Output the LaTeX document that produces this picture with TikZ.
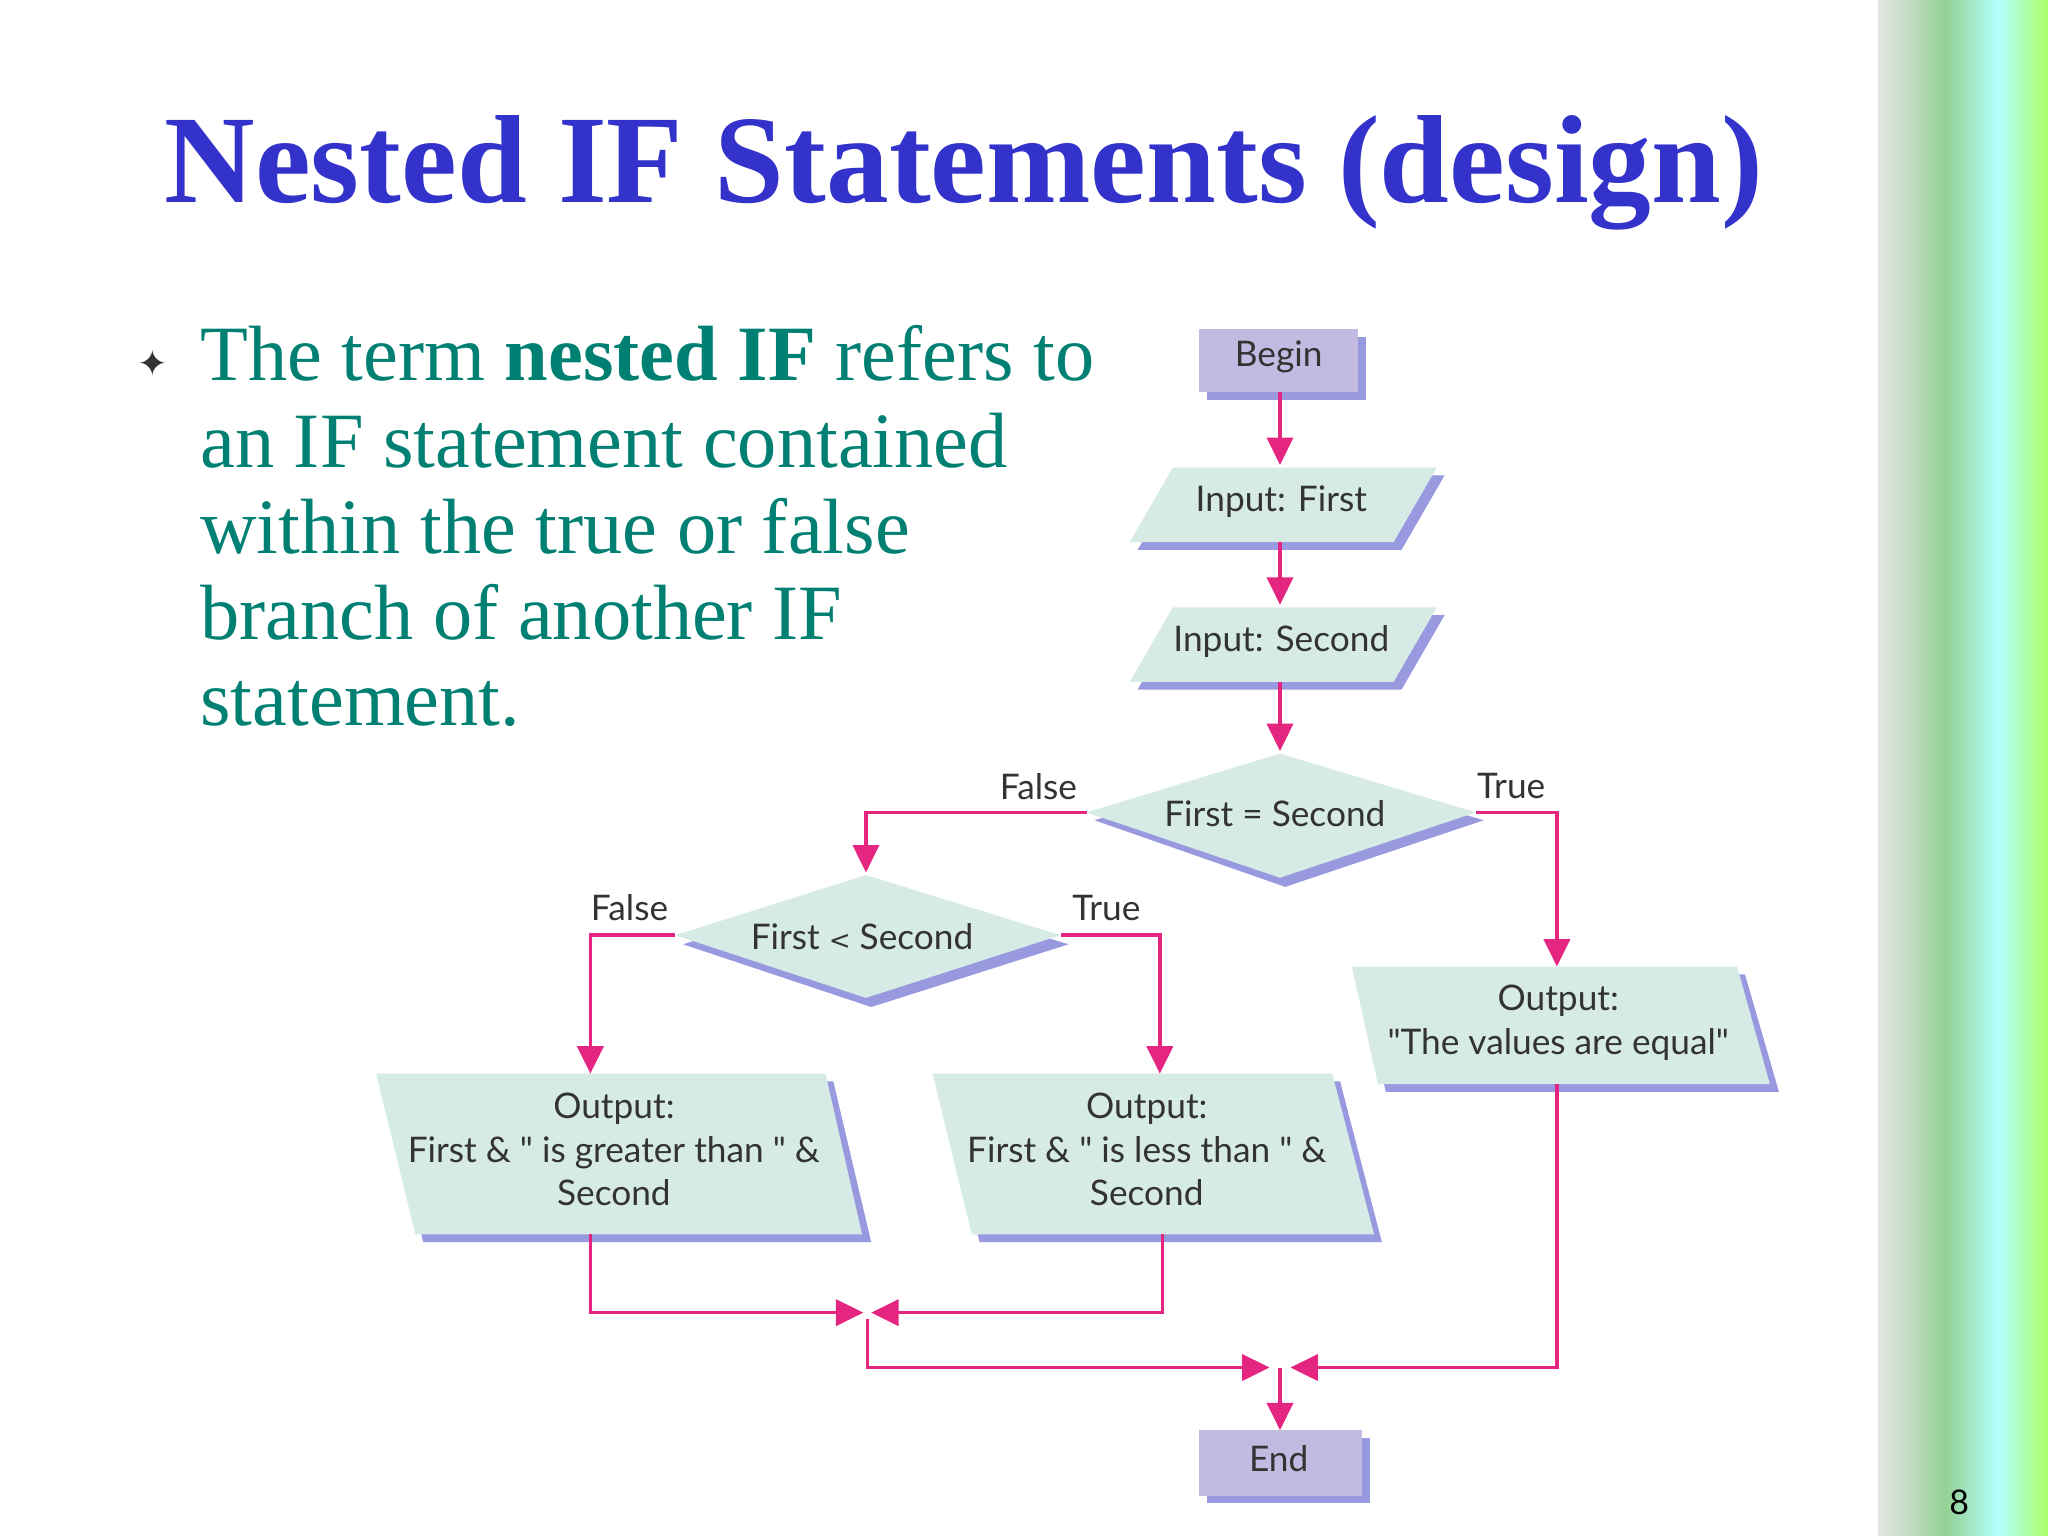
\documentclass[tikz,border=0pt]{standalone}
\usepackage{fontspec}
\setmainfont{Liberation Serif}
\newfontfamily\fc{Lato}
\newfontfamily\djv{DejaVu Sans}
\usetikzlibrary{arrows.meta,calc}
\definecolor{ttl}{rgb}{0.2,0.2,0.8}
\definecolor{teal2}{rgb}{0.0,0.5,0.45}
\definecolor{boxf}{rgb}{0.84,0.92,0.9}
\definecolor{begf}{rgb}{0.76,0.73,0.88}
\definecolor{shad}{rgb}{0.6,0.6,0.88}
\definecolor{mag}{rgb}{0.9,0.15,0.5}
\tikzset{
  lbl/.style={font=\fc\fontsize{13.5}{16.5}\selectfont, text=black!80, align=center},
  conn/.style={draw=mag, line width=1.3pt, -{Triangle[length=10.5pt,width=10pt]}},
  shd/.style={fill=shad},
}
\begin{document}
\begin{tikzpicture}[x=0.5pt,y=-0.5pt]
\useasboundingbox (0,0) rectangle (1568,1176);
\fill[white] (0,0) rectangle (1568,1176);
% right strip
\shade[left color=black!10, right color=green!40!gray!60] (1438,0) rectangle (1490,1176);
\shade[left color=green!40!gray!60, right color=cyan!30!white] (1490,0) rectangle (1530,1176);
\shade[left color=cyan!30!white, right color=green!55!yellow!60] (1530,0) rectangle (1568,1176);
\node[font=\fc\fontsize{13}{15}\selectfont] (pg) at (1500,1150) {8};
% title
\node[font=\bfseries\fontsize{48}{54}\selectfont, text=ttl] (title) at (738,132) {Nested IF Statements (design)};
% bullet
\node[font=\djv\fontsize{14}{14}\selectfont, text=black!80] (bul) at (117,278) {✦};
\node[anchor=north west, align=left, text=teal2, font=\fontsize{30}{33}\selectfont, inner sep=0] (txt) at (153,249)
{The term \textbf{nested IF} refers to\\an IF statement contained\\within the true or false\\branch of another IF\\statement.};
% Begin
\fill[shd] (924,258) rectangle (1046,306);
\fill[begf] (918,252) rectangle (1040,300);
\node[lbl] (begin) at (979,273) {Begin};
% Input First
\fill[shd] (904,364) -- (1106,364) -- (1073,421) -- (871,421) -- cycle;
\fill[boxf] (898,358) -- (1100,358) -- (1067,415) -- (865,415) -- cycle;
\node[lbl] (in1) at (981,384) {Input: First};
% Input Second
\fill[shd] (904,471) -- (1106,471) -- (1073,528) -- (871,528) -- cycle;
\fill[boxf] (898,465) -- (1100,465) -- (1067,522) -- (865,522) -- cycle;
\node[lbl] (in2) at (981,491) {Input: Second};
% Diamond 1
\fill[shd] (838,628) -- (984,583) -- (1136,628) -- (984,679) -- cycle;
\fill[boxf] (832,622) -- (980,577) -- (1130,622) -- (980,672) -- cycle;
\node[lbl] (d1) at (976,623) {First = Second};
% Diamond 2
\fill[shd] (523,723) -- (667,676) -- (818,723) -- (667,771) -- cycle;
\fill[boxf] (517,716) -- (663,670) -- (812,716) -- (663,764) -- cycle;
\node[lbl] (d2) at (660,717) {First {\djv\fontsize{10}{10}\selectfont<} Second};
% Output equal
\fill[shd] (1041,746) -- (1336,746) -- (1362,836) -- (1061,836) -- cycle;
\fill[boxf] (1035,740) -- (1330,740) -- (1355,830) -- (1055,830) -- cycle;
\node[lbl] (oeq) at (1193,783) {Output:\\"The values are equal"};
% Output greater
\fill[shd] (294,828) -- (638,828) -- (667,951) -- (324,951) -- cycle;
\fill[boxf] (288,822) -- (632,822) -- (660,945) -- (318,945) -- cycle;
\node[lbl] (ogt) at (470,880) {Output:\\First \& " is greater than " \&\\Second};
% Output less
\fill[shd] (720,828) -- (1026,828) -- (1058,951) -- (750,951) -- cycle;
\fill[boxf] (714,822) -- (1020,822) -- (1052,945) -- (744,945) -- cycle;
\node[lbl] (olt) at (878,880) {Output:\\First \& " is less than " \&\\Second};
% End
\fill[shd] (924,1101) rectangle (1049,1151);
\fill[begf] (918,1095) rectangle (1043,1145);
\node[lbl] (end) at (979,1117) {End};
% coordinates
\coordinate (b0) at (980,300);
\coordinate (i1t) at (980,356);
\coordinate (i1b) at (980,415);
\coordinate (i2t) at (980,463);
\coordinate (i2b) at (980,522);
\coordinate (d1t) at (980,575);
\coordinate (d1l) at (832,622);
\coordinate (d1r) at (1130,622);
\coordinate (d2t) at (663,668);
\coordinate (d2l) at (517,716);
\coordinate (d2r) at (812,716);
\coordinate (oeqt) at (1192,740);
\coordinate (oeqb) at (1192,830);
\coordinate (ogtt) at (452,822);
\coordinate (ogtb) at (452,945);
\coordinate (oltt) at (888,822);
\coordinate (oltb) at (890,945);
\coordinate (jl) at (661,1005);
\coordinate (jr) at (667,1005);
\coordinate (jm) at (664,1010);
\coordinate (j2l) at (972,1047);
\coordinate (j2r) at (988,1047);
\coordinate (j2) at (980,1047);
\coordinate (endt) at (980,1095);
\draw[conn] (b0) -- (i1t);
\draw[conn] (i1b) -- (i2t);
\draw[conn] (i2b) -- (d1t);
\draw[conn] (d1l) -| (d2t);
\draw[conn] (d1r) -| (oeqt);
\draw[conn] (d2l) -| (ogtt);
\draw[conn] (d2r) -| (oltt);
\draw[conn] (ogtb) |- (jl);
\draw[conn] (oltb) |- (jr);
\draw[conn] (jm) |- (j2l);
\draw[conn] (oeqb) |- (j2r);
\draw[conn] (j2) -- (endt);
\node[lbl] (f1) at (795,602) {False};
\node[lbl] (t1) at (1157,602) {True};
\node[lbl] (f2) at (482,695) {False};
\node[lbl] (t2) at (847,695) {True};
\end{tikzpicture}
\end{document}
